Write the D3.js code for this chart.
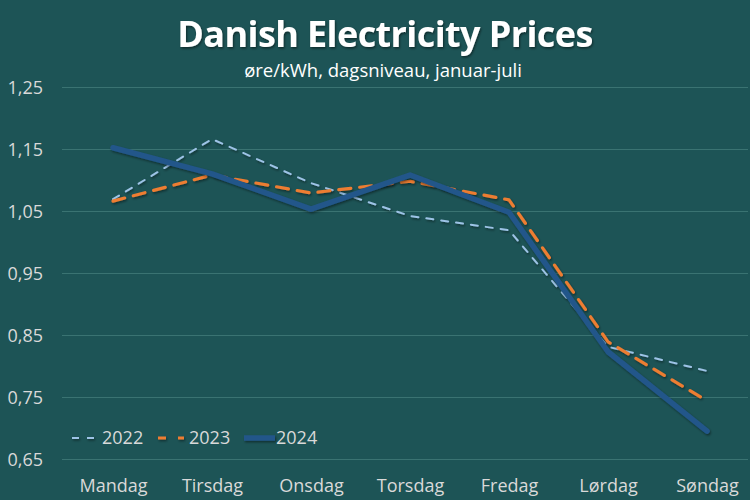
<!DOCTYPE html>
<html><head><meta charset="utf-8">
<script src="https://cdn.jsdelivr.net/npm/d3@7"></script>
<style>body{margin:0;background:#1d5456;} svg{display:block;}</style>
</head><body>
<script>
const days = ["Mandag","Tirsdag","Onsdag","Torsdag","Fredag","Lørdag","Søndag"];
const v2022 = [1.069,1.166,1.095,1.042,1.019,0.831,0.792];
const v2023 = [1.066,1.108,1.079,1.098,1.068,0.839,0.744];
const v2024 = [1.152,1.110,1.053,1.108,1.048,0.823,0.695];
const yTicks = [0.65,0.75,0.85,0.95,1.05,1.15,1.25];
const seriesNames = ["2022","2023","2024"];

const W=750,H=500;
const svg=d3.select("body").append("svg").attr("width",W).attr("height",H);
svg.append("rect").attr("width",W).attr("height",H).attr("fill","#1d5456");
const defs=svg.append("defs");
const f=defs.append("filter").attr("id","sh").attr("filterUnits","userSpaceOnUse")
  .attr("x",0).attr("y",0).attr("width",W).attr("height",H);
f.append("feDropShadow").attr("dx",1).attr("dy",1.5).attr("stdDeviation",1.2).attr("flood-color","#000").attr("flood-opacity",0.45);
const ft=defs.append("filter").attr("id","tsh");
ft.append("feDropShadow").attr("dx",1).attr("dy",1.5).attr("stdDeviation",1).attr("flood-color","#000").attr("flood-opacity",0.5);

const x=d3.scalePoint().domain(days).range([113,707]);
const y=d3.scaleLinear().domain([0.65,1.25]).range([459,87]);

const font="'Open Sans', 'Noto Sans', sans-serif";
svg.append("text").attr("x",385).attr("y",47).attr("text-anchor","middle")
  .attr("font-family",font).attr("font-weight","bold").attr("font-size",36).attr("letter-spacing",-0.6)
  .attr("fill","#fff").attr("filter","url(#tsh)").text("Danish Electricity Prices");
svg.append("text").attr("x",383).attr("y",77).attr("text-anchor","middle")
  .attr("font-family",font).attr("font-size",18.5).attr("fill","#fff").text("øre/kWh, dagsniveau, januar-juli");

// grid
const yAxis=d3.axisLeft(y).tickValues(yTicks).tickSize(-(748-62)).tickFormat(d=>d3.format(".2f")(d).replace(".",","));
const ga=svg.append("g").attr("transform","translate(62,0)").call(yAxis);
ga.select(".domain").remove();
ga.selectAll(".tick line").attr("stroke","#3a7372").attr("stroke-width",1);
ga.selectAll(".tick text").attr("x",-19).attr("dy","0.35em").attr("font-family",font).attr("font-size",18).attr("fill","#d9d9d9").attr("text-anchor","end");

const xAxis=d3.axisBottom(x).tickSize(0);
const gx=svg.append("g").attr("transform","translate(0,459)").call(xAxis);
gx.select(".domain").remove();
gx.selectAll(".tick text").attr("y",33).attr("dy",0).attr("font-family",font).attr("font-size",18).attr("fill","#d9d9d9");

const line=d3.line().x((d,i)=>x(days[i])).y(d=>y(d));
const styles=[
  {data:v2022,color:"#9dc3e6",w:2,dash:"7,8"},
  {data:v2023,color:"#ed7d31",w:3.2,dash:"12,9"},
  {data:v2024,color:"#22568a",w:5.5,dash:null}
];
styles.forEach(s=>{
  const p=svg.append("path").datum(s.data).attr("d",line).attr("fill","none")
   .attr("stroke",s.color).attr("stroke-width",s.w).attr("stroke-linejoin","round").attr("stroke-linecap","round")
   .attr("filter","url(#sh)");
  if(s.dash) p.attr("stroke-dasharray",s.dash);
});

// legend
const leg=[{x:72,len:22,tx:102},{x:158,len:26,tx:189},{x:244,len:31,tx:276}];
styles.forEach((s,i)=>{
  const l=svg.append("line").attr("x1",leg[i].x).attr("x2",leg[i].x+leg[i].len).attr("y1",438).attr("y2",438)
    .attr("stroke",s.color).attr("stroke-width",s.w).attr("filter","url(#sh)");
  if(i==0) l.attr("stroke-dasharray","7,8");
  if(i==1) l.attr("stroke-dasharray","8,12");
  svg.append("text").attr("x",leg[i].tx).attr("y",438).attr("dy","0.35em").attr("font-family",font)
   .attr("font-size",18).attr("fill","#d9d9d9").text(seriesNames[i]);
});
</script>
</body></html>
